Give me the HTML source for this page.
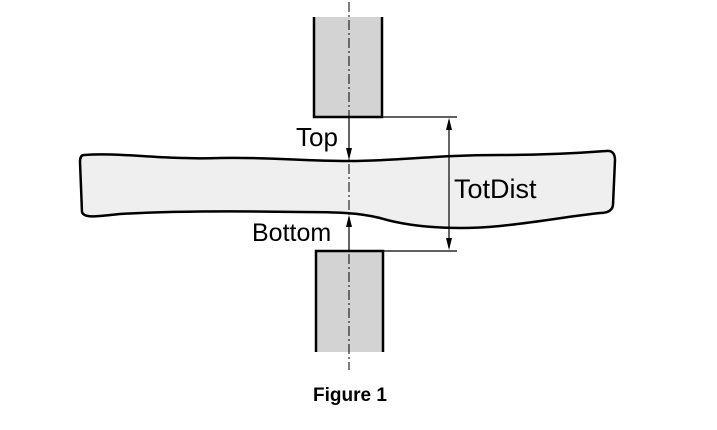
<!DOCTYPE html>
<html><head><style>body{margin:0;background:#fff}svg{display:block}</style></head>
<body>
<svg width="717" height="430" viewBox="0 0 717 430" xmlns="http://www.w3.org/2000/svg" font-family="Liberation Sans, Arial, sans-serif">
<rect x="314" y="17" width="68" height="100" fill="#d3d3d3"/>
<path d="M314 17V117H382V17" fill="none" stroke="#000" stroke-width="2.5"/>
<rect x="316" y="251" width="67" height="101" fill="#d3d3d3"/>
<path d="M316 352V251H383V352" fill="none" stroke="#000" stroke-width="2.5"/>
<path d="M84 155 C120 152,160 160,220 158 C270 157,300 161,349 161 C400 161,430 155,500 155 C550 155,580 153,606 151 Q615 150,615 160 L613 205 Q612 213,600 213 C570 216,540 222,500 226 C470 229,420 230,380 218 C360 213,340 212,300 212 C240 211,170 211,120 214 C100 216,84 219,82 212 L80 162 Q80 155,84 155Z" fill="#efefef" stroke="#000" stroke-width="2.5"/>
<line x1="349" y1="2" x2="349" y2="370" stroke="#000" stroke-width="1" stroke-dasharray="10,3,2,3"/>
<line x1="382" y1="117" x2="457" y2="117" stroke="#000" stroke-width="1.2"/>
<line x1="383" y1="251" x2="457" y2="251" stroke="#000" stroke-width="1.2"/>
<line x1="449" y1="120" x2="449" y2="248" stroke="#000" stroke-width="1.2"/>
<path d="M449 118 l-3 12 h6z M449 250 l-3 -12 h6z" fill="#000"/>
<line x1="349" y1="117" x2="349" y2="158" stroke="#000" stroke-width="1.2"/>
<path d="M349 160 l-3 -12 h6z" fill="#000"/>
<line x1="349" y1="217" x2="349" y2="251" stroke="#000" stroke-width="1.2"/>
<path d="M349 215 l-3 12 h6z" fill="#000"/>
<text x="296" y="146" font-size="26">Top</text>
<text x="252" y="241" font-size="25">Bottom</text>
<text x="454" y="198" font-size="27">TotDist</text>
<text x="350" y="401" font-size="19" font-weight="bold" text-anchor="middle">Figure 1</text>
</svg>
</body></html>
